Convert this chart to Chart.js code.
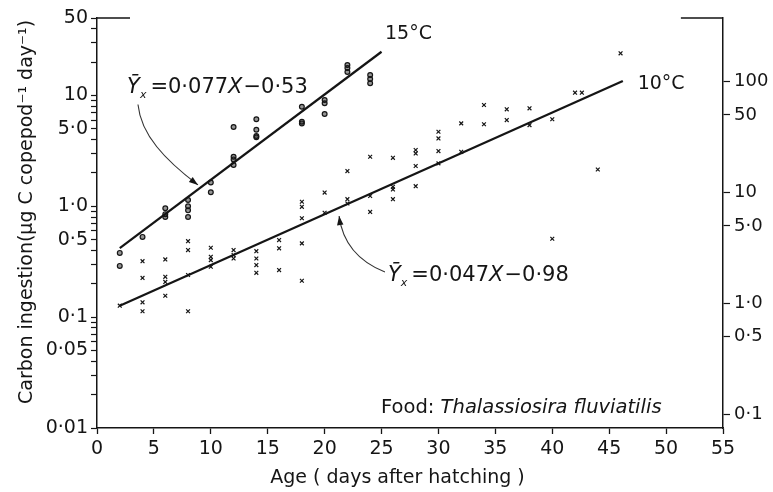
<!DOCTYPE html>
<html><head><meta charset="utf-8">
<script src="https://cdn.jsdelivr.net/npm/chart.js@4.4.1/dist/chart.umd.min.js"></script>
<style>html,body{margin:0;padding:0;background:#fff;}#wrap{width:773px;height:492px;position:relative;}</style>
</head><body><div id="wrap"><canvas id="c" width="773" height="492" style="width:773px;height:492px;display:block"></canvas></div>
<script>
// ---- data ----
const ages15 = [2,2,4,6,6,6,8,8,8,8,10,10,12,12,12,12,14,14,14,14,18,18,18,20,20,20,22,22,22,24,24,24];
const ingestion15 = [0.38,0.29,0.53,0.96,0.85,0.80,1.14,1.0,0.92,0.80,1.64,1.34,5.2,2.8,2.65,2.36,6.1,4.9,4.3,4.2,7.9,5.8,5.6,9.1,8.5,6.8,18.8,17.7,16.3,15.3,14.1,12.9];
const ages10 = [2,4,4,4,4,6,6,6,6,8,8,8,8,10,10,10,10,12,12,12,14,14,14,14,16,16,16,18,18,18,18,18,20,20,22,22,22,24,24,24,26,26,26,26,28,28,28,28,30,30,30,30,32,32,34,34,36,36,38,38,40,40,42,42.6,44,46];
const ingestion10 = [0.127,0.32,0.226,0.136,0.113,0.332,0.231,0.208,0.156,0.485,0.403,0.24,0.113,0.423,0.35,0.327,0.285,0.403,0.363,0.338,0.394,0.338,0.295,0.251,0.496,0.418,0.266,1.10,0.99,0.78,0.463,0.213,1.33,0.875,2.08,1.16,1.06,2.80,1.24,0.89,2.74,1.5,1.42,1.16,3.22,3.0,2.31,1.52,4.71,4.1,3.15,2.44,5.6,3.1,8.2,5.5,7.5,6.0,7.66,5.4,6.1,0.51,10.6,10.6,2.15,24];
const fit15Age = [2, 25];
const fit15Value = [0.42, 24.8];
const fit10Age = [2, 46.2];
const fit10Value = [0.127, 13.5];

const xTicks = [0,5,10,15,20,25,30,35,40,45,50,55];
const leftMajor = [0.01,0.05,0.1,0.5,1,5,10,50];
const leftMajorLabels = ['0·01','0·05','0·1','0·5','1·0','5·0','10','50'];
const leftMinor = [0.02,0.03,0.04,0.06,0.07,0.08,0.09,0.2,0.3,0.4,0.6,0.7,0.8,0.9,2,3,4,6,7,8,9,20,30,40];
const rightMajor = [0.1,0.5,1,5,10,50,100];
const rightMajorLabels = ['0·1','0·5','1·0','5·0','10','50','100'];

const INK = '#151515';
const FONT = "'DejaVu Sans', sans-serif";

const toPts = (xs, ys) => xs.map((v, i) => ({x: v, y: ys[i]}));

const decor = {
  id: 'decor',
  beforeDraw(chart) {
    const c = chart.ctx; c.save(); c.fillStyle = '#fff'; c.fillRect(0, 0, chart.width, chart.height); c.restore();
  },
  afterDraw(chart) {
    const ctx = chart.ctx, xs = chart.scales.x, ys = chart.scales.y, ca = chart.chartArea;
    const X = v => xs.getPixelForValue(v), Y = v => ys.getPixelForValue(v);
    ctx.save();
    ctx.fillStyle = INK; ctx.strokeStyle = INK;
    ctx.lineWidth = 1.5;
    ctx.beginPath();
    ctx.moveTo(ca.left, ca.top); ctx.lineTo(X(2.9), ca.top);
    ctx.moveTo(X(51.3), ca.top); ctx.lineTo(ca.right, ca.top);
    ctx.stroke();

    const runs = (x0, yb, parts) => {
      let x = x0;
      for (const p of parts) { ctx.font = p.f; ctx.fillText(p.t, x, yb + (p.dy || 0)); x += ctx.measureText(p.t).width + (p.sp || 0); }
    };
    ctx.textBaseline = 'alphabetic'; ctx.textAlign = 'left';
    const eqF = "21px " + FONT, eqI = "italic 21px " + FONT, subF = "italic 11px " + FONT;
    runs(X(2.64), Y(10.5), [{t:'Ȳ', f:eqI},{t:'x', f:subF, dy:5, sp:4},{t:'=0·077', f:eqF},{t:'X', f:eqI, sp:1},{t:'−0·53', f:eqF}]);
    runs(X(25.57), Y(0.211), [{t:'Ȳ', f:eqI},{t:'x', f:subF, dy:5, sp:4},{t:'=0·047', f:eqF},{t:'X', f:eqI, sp:1},{t:'−0·98', f:eqF}]);
    ctx.font = "19px " + FONT;
    ctx.fillText('15°C', X(25.3), Y(32.3));
    ctx.fillText('10°C', X(47.5), Y(11.4));
    runs(X(24.96), Y(0.0136), [{t:'Food: ', f:"19.5px " + FONT},{t:'Thalassiosira fluviatilis', f:"italic 19.5px " + FONT}]);

    const arrow = (p0, c1, c2, p3) => {
      const P = p => [X(p[0]), Y(p[1])];
      const a = P(p0), b = P(c1), c = P(c2), d = P(p3);
      ctx.lineWidth = 1.1; ctx.strokeStyle = '#333';
      ctx.beginPath(); ctx.moveTo(a[0], a[1]); ctx.bezierCurveTo(b[0], b[1], c[0], c[1], d[0], d[1]); ctx.stroke();
      const ang = Math.atan2(d[1] - c[1], d[0] - c[0]);
      const L = 9, W = 3.2;
      ctx.beginPath();
      ctx.moveTo(d[0], d[1]);
      ctx.lineTo(d[0] - L * Math.cos(ang) + W * Math.sin(ang), d[1] - L * Math.sin(ang) - W * Math.cos(ang));
      ctx.lineTo(d[0] - L * Math.cos(ang) - W * Math.sin(ang), d[1] - L * Math.sin(ang) + W * Math.cos(ang));
      ctx.closePath(); ctx.fillStyle = INK; ctx.fill();
    };
    arrow([3.6, 8.3], [3.87, 4.4], [5.98, 2.62], [8.87, 1.56]);
    arrow([25.3, 0.255], [23.1, 0.314], [21.6, 0.447], [21.27, 0.817]);

    ctx.fillStyle = INK;
    ctx.font = "19px " + FONT; ctx.textAlign = 'center'; ctx.textBaseline = 'middle';
    ctx.fillText('Age ( days after hatching )', X(26.4), ca.bottom + 50);
    ctx.save();
    ctx.translate(27, Y(0.89)); ctx.rotate(-Math.PI / 2);
    ctx.fillText('Carbon ingestion(μg C copepod⁻¹ day⁻¹)', 0, 0);
    ctx.restore();
    ctx.restore();
  }
};

new Chart(document.getElementById('c'), {
  type: 'scatter',
  data: {
    datasets: [
      {label: '15°C', data: toPts(ages15, ingestion15), pointStyle: 'circle', pointRadius: 2.4, borderWidth: 1.2, borderColor: INK, backgroundColor: 'rgba(20,20,20,0.45)'},
      {label: '10°C', data: toPts(ages10, ingestion10), pointStyle: 'crossRot', pointRadius: 2.7, borderWidth: 1.2, borderColor: INK},
      {label: 'fit 15', data: toPts(fit15Age, fit15Value), showLine: true, pointRadius: 0, borderColor: INK, borderWidth: 2.2},
      {label: 'fit 10', data: toPts(fit10Age, fit10Value), showLine: true, pointRadius: 0, borderColor: INK, borderWidth: 2.2}
    ]
  },
  options: {
    responsive: false, animation: false, devicePixelRatio: 1,
    layout: {padding: {top: 18, left: 0, right: 0, bottom: 0}},
    plugins: {legend: {display: false}, tooltip: {enabled: false}},
    scales: {
      x: {
        type: 'linear', min: 0, max: 55,
        afterBuildTicks: s => { s.ticks = xTicks.map(v => ({value: v})); },
        ticks: {autoSkip: false, color: INK, font: {family: FONT, size: 19}, padding: 4, maxRotation: 0},
        grid: {drawOnChartArea: false, drawTicks: true, tickLength: 6, color: INK, tickWidth: 1.3},
        border: {display: true, color: INK, width: 1.5},
        afterFit: s => { s.height = 64; }
      },
      y: {
        type: 'logarithmic', position: 'left', min: 0.01, max: 50,
        afterBuildTicks: s => { s.ticks = leftMajor.concat(leftMinor).sort((a, b) => a - b).map(v => ({value: v})); },
        ticks: {autoSkip: false, color: INK, font: {family: FONT, size: 19}, padding: 3,
          callback: v => { const i = leftMajor.indexOf(v); return i >= 0 ? leftMajorLabels[i] : ''; }},
        grid: {drawOnChartArea: false, drawTicks: true, tickLength: 6, color: INK, tickWidth: 1.2},
        border: {display: true, color: INK, width: 1.5},
        afterFit: s => { s.width = 97; }
      },
      y2: {
        type: 'logarithmic', position: 'right', min: 0.075, max: 375,
        afterBuildTicks: s => { s.ticks = rightMajor.map(v => ({value: v})); },
        ticks: {autoSkip: false, color: INK, font: {family: FONT, size: 18}, padding: 4,
          callback: v => { const i = rightMajor.indexOf(v); return i >= 0 ? rightMajorLabels[i] : ''; }},
        grid: {drawOnChartArea: false, drawTicks: true, tickLength: 7, color: INK, tickWidth: 1.2},
        border: {display: true, color: INK, width: 1.5},
        afterFit: s => { s.width = 50; }
      }
    }
  },
  plugins: [decor]
});
</script>
</body></html>
